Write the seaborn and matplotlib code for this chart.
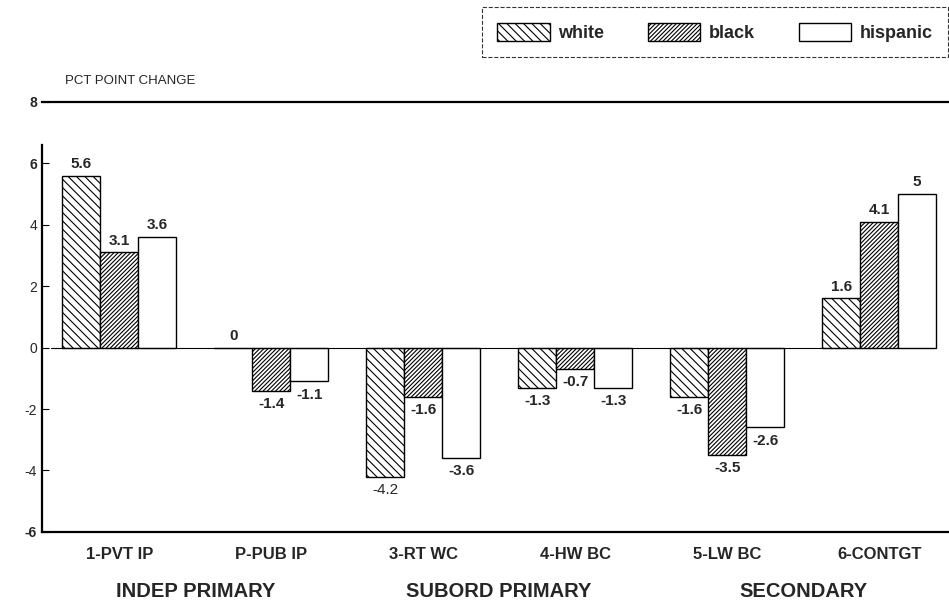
import numpy as np
import pandas as pd
import matplotlib
matplotlib.use("Agg")
import matplotlib.pyplot as plt
from matplotlib.patches import Patch
import seaborn as sns

# data
categories = ["1-PVT IP", "P-PUB IP", "3-RT WC", "4-HW BC", "5-LW BC", "6-CONTGT"]
white = [5.6, 0.0, -4.2, -1.3, -1.6, 1.6]
black = [3.1, -1.4, -1.6, -0.7, -3.5, 4.1]
hispanic = [3.6, -1.1, -3.6, -1.3, -2.6, 5.0]
groups = ["white", "black", "hispanic"]
sectors = ["INDEP PRIMARY", "SUBORD PRIMARY", "SECONDARY"]
y_ticks = [-6, -4, -2, 0, 2, 4, 6, 8]

df = pd.DataFrame({
    "cat": categories * 3,
    "group": ["white"] * 6 + ["black"] * 6 + ["hispanic"] * 6,
    "val": white + black + hispanic,
})

sns.set_style("white")
plt.rcParams["font.family"] = ["Liberation Sans", "DejaVu Sans"]
plt.rcParams["hatch.linewidth"] = 0.8

fig = plt.figure(figsize=(9.49, 6.10), dpi=100)
ax = fig.add_axes([0.044, 0.128, 0.956, 0.705])

sns.barplot(data=df, x="cat", y="val", hue="group", order=categories,
            hue_order=groups, palette=["white"] * 3, edgecolor="black",
            linewidth=1.0, width=0.75, ax=ax, legend=False, saturation=1)

hatches = ["\\\\\\\\", "////////", ""]
for cont, h, vals in zip(ax.containers, hatches, [white, black, hispanic]):
    for bar, v in zip(cont, vals):
        bar.set_hatch(h)
        x = bar.get_x() + bar.get_width() / 2
        weight = "normal" if v == -4.2 else "bold"
        if v >= 0:
            ax.text(x, v + 0.15, f"{v:g}", ha="center", va="bottom",
                    fontsize=11, fontweight=weight)
        else:
            ax.text(x, v - 0.2, f"{v:g}", ha="center", va="top",
                    fontsize=11, fontweight=weight)

ax.axhline(0, color="black", lw=0.8, xmin=0.01, xmax=0.92)

ax.set_ylim(-6, 8)
ax.set_xlim(-0.51, 5.46)
ax.set_yticks(y_ticks)
ax.set_yticklabels([str(t) for t in y_ticks], fontsize=10)
for lab, t in zip(ax.get_yticklabels(), y_ticks):
    if t in (-6, 6, 8):
        lab.set_fontweight("bold")
ax.set_xticks(range(len(categories)))
ax.set_xticklabels(categories, fontsize=12, fontweight="bold")
ax.tick_params(axis="x", direction="in", length=5, pad=11, color="black")
ax.tick_params(axis="y", direction="in", length=5, color="black", left=True)
ax.set_xlabel("")
ax.set_ylabel("")

for s in ["left", "bottom", "top"]:
    ax.spines[s].set_color("black")
    ax.spines[s].set_linewidth(1.6)
ax.spines["right"].set_visible(False)
ax.spines["left"].set_bounds(-6, 6.6)

for i, name in enumerate(sectors):
    ax.text(2 * i + 0.5, -7.95, name, ha="center", va="center",
            fontsize=14.5, fontweight="bold")

fig.text(0.068, 0.868, "PCT POINT CHANGE", fontsize=9.5, ha="left", va="center")

handles = [Patch(facecolor="white", edgecolor="black", hatch=h, label=g)
           for h, g in zip(hatches, groups)]
leg = fig.legend(handles=handles, loc="upper right", bbox_to_anchor=(1.005, 0.997),
                 ncol=3, frameon=True, fancybox=False,
                 prop={"weight": "bold", "size": 13}, handlelength=2.9,
                 handleheight=1.2, handletextpad=0.5, columnspacing=2.4,
                 borderpad=0.85, borderaxespad=0.3)
leg.get_frame().set_edgecolor("black")
leg.get_frame().set_linestyle("--")
leg.get_frame().set_linewidth(0.8)

fig.savefig("out.png", dpi=100)
